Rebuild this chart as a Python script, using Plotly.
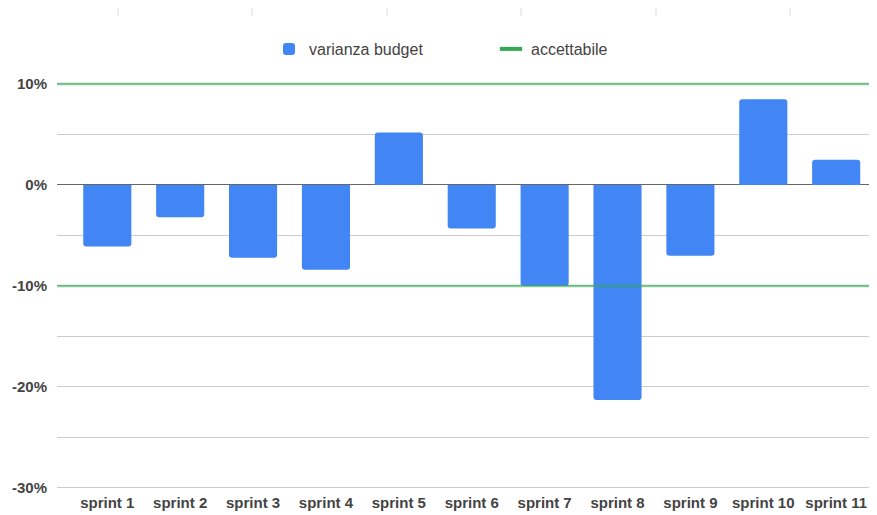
import plotly.graph_objects as go

categories = ["sprint 1", "sprint 2", "sprint 3", "sprint 4", "sprint 5", "sprint 6",
              "sprint 7", "sprint 8", "sprint 9", "sprint 10", "sprint 11"]
varianza_budget = [-6.1, -3.2, -7.2, -8.4, 5.2, -4.3, -10.0, -21.3, -7.0, 8.5, 2.5]
accettabile_levels = [10, -10]
y_tick_values = [10, 5, 0, -5, -10, -15, -20, -25, -30]
y_tick_labels = ["10%", "", "0%", "", "-10%", "", "-20%", "", "-30%"]

GREEN = "rgba(52,168,83,0.6)"
x_idx = list(range(len(categories)))
x_range = [-0.69, len(categories) - 1 + 0.56]
y_range = [-30.1, 11.385]

fig = go.Figure()
fig.add_trace(go.Bar(
    x=x_idx, y=varianza_budget, name="varianza budget",
    marker=dict(color="#4285f4", line=dict(width=0)), width=0.66,
))
lx, ly = [], []
for lvl in accettabile_levels:
    lx += [x_range[0], x_range[1], None]
    ly += [lvl, lvl, None]
fig.add_trace(go.Scatter(
    x=lx, y=ly, mode="lines", name="accettabile", legendgroup="acc", showlegend=False,
    line=dict(color=GREEN, width=2.5), hoverinfo="skip",
))
# legend entry for accettabile (short thick dash like the reference)
fig.add_trace(go.Scatter(
    x=[None], y=[None], mode="markers", name="accettabile", legendgroup="acc",
    marker=dict(symbol="line-ew-open", size=16, color="#34a853",
                line=dict(color="#34a853", width=4)),
))

# small decorative ticks at top of the reference image
for px in [118, 252, 387, 521, 656, 790]:
    fig.add_shape(type="line", xref="paper", yref="paper",
                  x0=(px - 57) / 820, x1=(px - 57) / 820,
                  y0=1 + (70 - 7) / 419, y1=1 + (70 - 16) / 419,
                  line=dict(color="#dddddd", width=1))

fig.update_layout(
    width=877, height=515,
    margin=dict(l=49, r=8, t=62, b=34, autoexpand=False),
    paper_bgcolor="white", plot_bgcolor="white",
    font=dict(family="Liberation Sans, Arial, sans-serif", color="#222222", size=13),
    barcornerradius=3,
    showlegend=True,
    legend=dict(orientation="h", x=(269 - 57) / 820, xanchor="left", y=1 + 21 / 419, yanchor="middle",
                font=dict(size=16, color="#444444"), entrywidth=177, bgcolor="rgba(0,0,0,0)"),
    xaxis=dict(range=x_range, tickvals=x_idx, ticktext=categories, showgrid=False,
               zeroline=False, showline=False, ticks="", ticklabelstandoff=3, automargin=False,
               tickfont=dict(size=15, color="#444444", weight="bold")),
    yaxis=dict(range=y_range, tickvals=y_tick_values, ticktext=y_tick_labels,
               showgrid=True, gridcolor="#cccccc", gridwidth=1,
               zeroline=True, zerolinecolor="#666666", zerolinewidth=1,
               showline=False, ticks="", ticklabelstandoff=9, automargin=False,
               tickfont=dict(size=15, color="#444444", weight="bold")),
)

fig.write_html("out.html")
